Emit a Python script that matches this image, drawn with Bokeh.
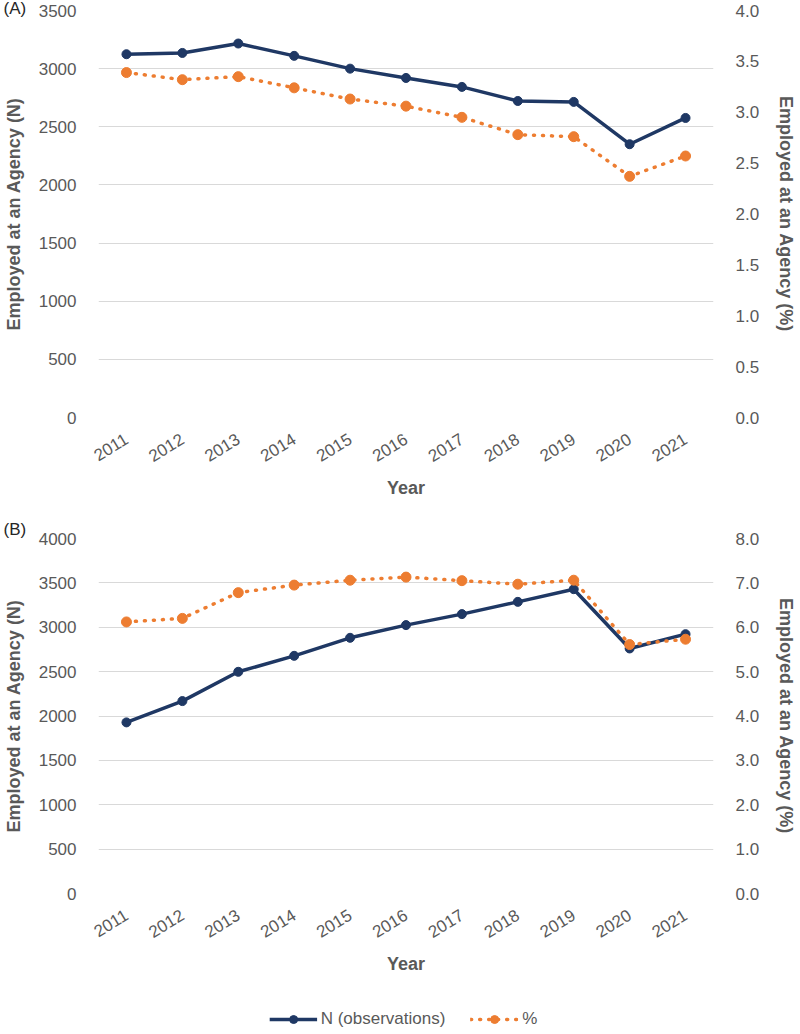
import math
from bokeh.plotting import figure
from bokeh.models import (Range1d, LinearAxis, SingleIntervalTicker, NumeralTickFormatter,
                          Legend, LegendItem)
from bokeh.layouts import column
from bokeh.embed import file_html
from bokeh.resources import INLINE

years = ["2011", "2012", "2013", "2014", "2015", "2016", "2017", "2018", "2019", "2020", "2021"]

a_n = [3124, 3135, 3216, 3110, 3000, 2920, 2843, 2722, 2714, 2350, 2576]
a_pct = [3.39, 3.32, 3.35, 3.24, 3.13, 3.06, 2.95, 2.78, 2.76, 2.37, 2.57]

b_n = [1928, 2168, 2498, 2678, 2881, 3024, 3148, 3286, 3429, 2761, 2922]
b_pct = [6.12, 6.20, 6.78, 6.95, 7.06, 7.13, 7.05, 6.97, 7.06, 5.61, 5.73]

title_n = "Employed at an Agency (N)"
title_pct = "Employed at an Agency (%)"
x_title = "Year"
legend_n = "N (observations)"
legend_pct = "%"

NAVY = "#1f3864"
ORANGE = "#ed7d31"
GRAY = "#595959"
FONT = "Liberation Sans"
WIDTH = 800
LEFT = 95
RIGHT = 87


def style_y(ax, title, standoff):
    ax.axis_line_color = None
    ax.major_tick_line_color = None
    ax.minor_tick_line_color = None
    ax.major_tick_out = 0
    ax.major_tick_in = 0
    ax.major_label_standoff = 22
    ax.major_label_text_font = FONT
    ax.major_label_text_font_size = "17px"
    ax.major_label_text_color = GRAY
    ax.axis_label = title
    ax.axis_label_text_font = FONT
    ax.axis_label_text_font_style = "bold"
    ax.axis_label_text_font_size = "18px"
    ax.axis_label_text_color = GRAY
    ax.axis_label_standoff = standoff


def panel(tag, n_vals, pct_vals, n_max, n_step, pct_max, pct_step, height, top, bottom,
          title_standoff):
    p = figure(x_range=years, y_range=Range1d(0, n_max), width=WIDTH, height=height,
               output_backend="svg", toolbar_location=None,
               min_border_left=LEFT, min_border_right=RIGHT,
               min_border_top=top, min_border_bottom=bottom)
    p.extra_y_ranges = {"pct": Range1d(0, pct_max)}
    p.outline_line_color = None

    p.title.text = tag
    p.title.align = "left"
    p.title.offset = -LEFT
    p.title.standoff = title_standoff
    p.title.text_font = FONT
    p.title.text_font_size = "17px"
    p.title.text_font_style = "normal"
    p.title.text_color = "#262626"

    ya = p.yaxis[0]
    ya.ticker = SingleIntervalTicker(interval=n_step, num_minor_ticks=0)
    style_y(ya, title_n, 12)

    ra = LinearAxis(y_range_name="pct",
                    ticker=SingleIntervalTicker(interval=pct_step, num_minor_ticks=0),
                    formatter=NumeralTickFormatter(format="0.0"))
    style_y(ra, title_pct, 14)
    p.add_layout(ra, "right")

    xa = p.xaxis[0]
    xa.axis_line_color = None
    xa.major_tick_line_color = None
    xa.minor_tick_line_color = None
    xa.major_tick_out = 0
    xa.major_tick_in = 0
    xa.major_label_orientation = 0.55
    xa.major_label_standoff = 20
    xa.major_label_text_font = FONT
    xa.major_label_text_font_size = "17px"
    xa.major_label_text_color = GRAY
    xa.axis_label = x_title
    xa.axis_label_text_font = FONT
    xa.axis_label_text_font_style = "bold"
    xa.axis_label_text_font_size = "18px"
    xa.axis_label_text_color = GRAY
    xa.axis_label_standoff = 8

    p.xgrid.visible = False
    p.ygrid.grid_line_color = "#d9d9d9"
    p.ygrid.grid_line_width = 1

    p.line(years, n_vals, line_color=NAVY, line_width=3.5)
    p.scatter(years, n_vals, marker="circle", size=9, fill_color=NAVY, line_color=NAVY)
    p.line(years, pct_vals, line_color=ORANGE, line_width=3.5, line_dash="1 8",
           line_cap="round", y_range_name="pct")
    p.scatter(years, pct_vals, marker="circle", size=10, fill_color=ORANGE,
              line_color=ORANGE, y_range_name="pct")
    return p


pa = panel("(A)", a_n, a_pct, 3500, 500, 4.0, 0.5, 508, 10, 91, -14)
pb = panel("(B)", b_n, b_pct, 4000, 500, 8.0, 1.0, 490, 30, 105, 0)

# legend strip: same series drawn against a range that keeps them out of view
pl = figure(width=WIDTH, height=32, x_range=years, y_range=Range1d(-2, -1),
            output_backend="svg", toolbar_location=None, min_border=0,
            x_axis_type=None, y_axis_type=None)
pl.outline_line_color = None
pl.grid.visible = False
l1 = pl.line(years, b_n, line_color=NAVY, line_width=3.5)
m1 = pl.scatter(years, b_n, marker="circle", size=9, fill_color=NAVY, line_color=NAVY)
l2 = pl.line(years, b_pct, line_color=ORANGE, line_width=3.5, line_dash="1 8",
             line_cap="round")
m2 = pl.scatter(years, b_pct, marker="circle", size=10, fill_color=ORANGE, line_color=ORANGE)
leg = Legend(items=[LegendItem(label=legend_n, renderers=[l1, m1]),
                    LegendItem(label=legend_pct, renderers=[l2, m2])],
             orientation="horizontal", location="bottom_center",
             border_line_alpha=0, background_fill_alpha=0,
             label_text_font=FONT, label_text_font_size="17px",
             label_text_color=GRAY, glyph_width=48, glyph_height=20,
             spacing=25, label_standoff=4, padding=0, margin=1)
pl.add_layout(leg)

layout = column(pa, pb, pl, spacing=0)
open("out.html", "w").write(file_html(layout, INLINE))
